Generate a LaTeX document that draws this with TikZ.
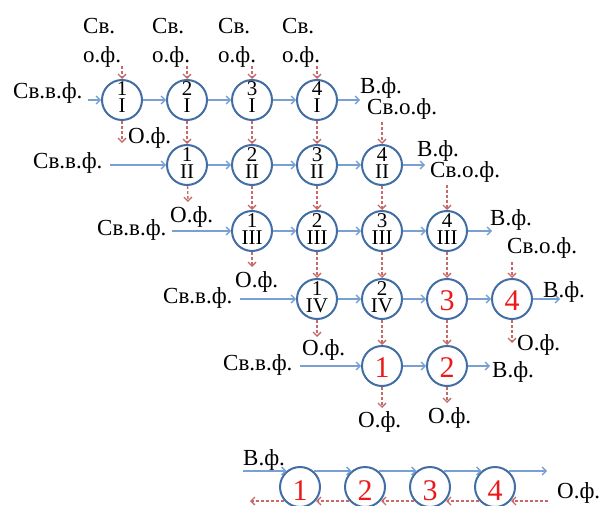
\documentclass[tikz,border=0pt]{standalone}
\usepackage{fontspec}
\setmainfont{Liberation Serif}
\usetikzlibrary{arrows.meta,calc}
\definecolor{cblue}{RGB}{66,110,165}
\definecolor{ablue}{RGB}{120,160,210}
\definecolor{ared}{RGB}{200,105,105}
\definecolor{tred}{RGB}{235,25,25}
\tikzset{
  circ/.style={circle, draw=cblue, line width=2pt, minimum size=40pt, inner sep=0pt},
  lab/.style={font=\fontsize{23}{26}\selectfont, inner sep=0pt, anchor=base west},
  num/.style={font=\fontsize{21}{21}\selectfont, inner sep=0pt, anchor=base},
  rnum/.style={font=\fontsize{30}{30}\selectfont, text=tred, inner sep=0pt, anchor=base},
  flow/.style={draw=ablue, line width=1.4pt, -{Straight Barb[length=4pt,width=8pt]}},
  back/.style={draw=ared, line width=1.3pt, dash pattern=on 3pt off 2pt, -{Straight Barb[length=4pt,width=8pt]}},
}
\begin{document}
\begin{tikzpicture}[x=1pt,y=-1pt]
\useasboundingbox (0,0) rectangle (601,505);
% rows I-III
\foreach \r/\y/\rom in {1/100/I,2/165/II,3/231/III}{
  \foreach \k in {1,...,4}{
    \pgfmathtruncatemacro\c{\r+\k-1}
    \pgfmathsetmacro\x{122+(\c-1)*65}
    \node[circ] (n-\r-\c) at (\x,\y) {};
    \node[num] (t-\r-\c) at ($(n-\r-\c)+(0,-4)$) {\k};
    \node[num] (u-\r-\c) at ($(n-\r-\c)+(0,13)$) {\rom};
  }
}
% row IV
\node[circ] (n-4-4) at (317,299) {};
\node[num] (t-4-4) at ($(n-4-4)+(0,-4)$) {1};
\node[num] (u-4-4) at ($(n-4-4)+(0,13)$) {IV};
\node[circ] (n-4-5) at (382,299) {};
\node[num] (t-4-5) at ($(n-4-5)+(0,-4)$) {2};
\node[num] (u-4-5) at ($(n-4-5)+(0,13)$) {IV};
\node[circ] (n-4-6) at (447,299) {};
\node[rnum] (t-4-6) at ($(n-4-6)+(0,11)$) {3};
\node[circ] (n-4-7) at (512,299) {};
\node[rnum] (t-4-7) at ($(n-4-7)+(0,11)$) {4};
% row V
\node[circ] (n-5-5) at (382,366) {};
\node[rnum] (t-5-5) at ($(n-5-5)+(0,11)$) {1};
\node[circ] (n-5-6) at (447,366) {};
\node[rnum] (t-5-6) at ($(n-5-6)+(0,11)$) {2};

% horizontal flows inside rows
\foreach \r/\a/\b in {1/1/2,1/2/3,1/3/4,2/2/3,2/3/4,2/4/5,3/3/4,3/4/5,3/5/6,4/4/5,4/5/6,4/6/7,5/5/6}{
  \draw[flow] (n-\r-\a) -- (n-\r-\b);
}
% vertical flows
\foreach \c/\a/\b in {2/1/2,3/1/2,4/1/2,3/2/3,4/2/3,5/2/3,4/3/4,5/3/4,6/3/4,5/4/5,6/4/5}{
  \draw[back] (n-\a-\c) -- (n-\b-\c);
}
% left inputs
\coordinate (in1) at (88,100);
\coordinate (in2) at (110,165);
\coordinate (in3) at (172,231);
\coordinate (in4) at (240,299);
\coordinate (in5) at (300,366);
\draw[flow] (in1) -- (n-1-1);
\draw[flow] (in2) -- (n-2-2);
\draw[flow] (in3) -- (n-3-3);
\draw[flow] (in4) -- (n-4-4);
\draw[flow] (in5) -- (n-5-5);
% right outputs
\coordinate (out1) at (360,100);
\coordinate (out2) at (425,165);
\coordinate (out3) at (492,231);
\coordinate (out4) at (560,299);
\coordinate (out5) at (490,366);
\draw[flow] (n-1-4) -- (out1);
\draw[flow] (n-2-5) -- (out2);
\draw[flow] (n-3-6) -- (out3);
\draw[flow] (n-4-7) -- (out4);
\draw[flow] (n-5-6) -- (out5);
% top inputs
\foreach \c in {1,2,3,4}{
  \pgfmathsetmacro\x{122+(\c-1)*65}
  \coordinate (top\c) at (\x,66);
  \draw[back] (top\c) -- (n-1-\c);
}
\coordinate (so2) at (382,122);
\coordinate (so3) at (447,185);
\coordinate (so4) at (512,262);
\draw[back] (so2) -- (n-2-5);
\draw[back] (so3) -- (n-3-6);
\draw[back] (so4) -- (n-4-7);
% bottom outputs
\coordinate (of1) at (122,143);
\coordinate (of2) at (188,202);
\coordinate (of3) at (252,267);
\coordinate (of4) at (317,337);
\coordinate (of5) at (512,343);
\coordinate (of6) at (382,408);
\coordinate (of7) at (447,403);
\draw[back] (n-1-1) -- (of1);
\draw[back] (n-2-2) -- (of2);
\draw[back] (n-3-3) -- (of3);
\draw[back] (n-4-4) -- (of4);
\draw[back] (n-4-7) -- (of5);
\draw[back] (n-5-5) -- (of6);
\draw[back] (n-5-6) -- (of7);

% labels
\node[lab] (sv1) at (83,34) {Св.};
\node[lab] (sv2) at (152,34) {Св.};
\node[lab] (sv3) at (218,34) {Св.};
\node[lab] (sv4) at (282,34) {Св.};
\node[lab] (of-1) at (83,63) {о.ф.};
\node[lab] (of-2) at (152,63) {о.ф.};
\node[lab] (of-3) at (218,63) {о.ф.};
\node[lab] (of-4) at (282,63) {о.ф.};
\node[lab] (svf1) at (13,99) {Св.в.ф.};
\node[lab] (svf2) at (33,168) {Св.в.ф.};
\node[lab] (svf3) at (97,235) {Св.в.ф.};
\node[lab] (svf4) at (163,303) {Св.в.ф.};
\node[lab] (svf5) at (223,370) {Св.в.ф.};
\node[lab] (vf1) at (360,94) {В.ф.};
\node[lab] (vf2) at (417,157) {В.ф.};
\node[lab] (vf3) at (490,225) {В.ф.};
\node[lab] (vf4) at (543,297) {В.ф.};
\node[lab] (vf5) at (492,377) {В.ф.};
\node[lab] (sof1) at (367,115) {Св.о.ф.};
\node[lab] (sof2) at (430,177) {Св.о.ф.};
\node[lab] (sof3) at (507,253) {Св.о.ф.};
\node[lab] (ol1) at (128,143) {О.ф.};
\node[lab] (ol2) at (170,222) {О.ф.};
\node[lab] (ol3) at (235,287) {О.ф.};
\node[lab] (ol4) at (302,355) {О.ф.};
\node[lab] (ol5) at (517,350) {О.ф.};
\node[lab] (ol6) at (358,427) {О.ф.};
\node[lab] (ol7) at (428,423) {О.ф.};

% bottom counter-current row
\foreach \k in {1,2,3,4}{
  \pgfmathsetmacro\x{300+(\k-1)*65}
  \node[circ] (b\k) at (\x,487) {};
  \node[rnum] (bt\k) at ($(b\k)+(0,13)$) {\k};
}
\coordinate (bs) at (243,471);
\coordinate (be) at (547,471);
\coordinate (rs) at (548,501);
\coordinate (re) at (250,501);
\draw[flow] (bs) -- (b1.130 |- bs);
\draw[flow] (b1.50 |- bs) -- (b2.130 |- bs);
\draw[flow] (b2.50 |- bs) -- (b3.130 |- bs);
\draw[flow] (b3.50 |- bs) -- (b4.130 |- bs);
\draw[flow] (b4.50 |- bs) -- (be);
\draw[back] (rs) -- (b4.-40 |- rs);
\draw[back] (b4.-140 |- rs) -- (b3.-40 |- rs);
\draw[back] (b3.-140 |- rs) -- (b2.-40 |- rs);
\draw[back] (b2.-140 |- rs) -- (b1.-40 |- rs);
\draw[back] (b1.-140 |- rs) -- (re);
\node[lab] (bvf) at (243,465) {В.ф.};
\node[lab] (bof) at (557,498) {О.ф.};
\end{tikzpicture}
\end{document}
